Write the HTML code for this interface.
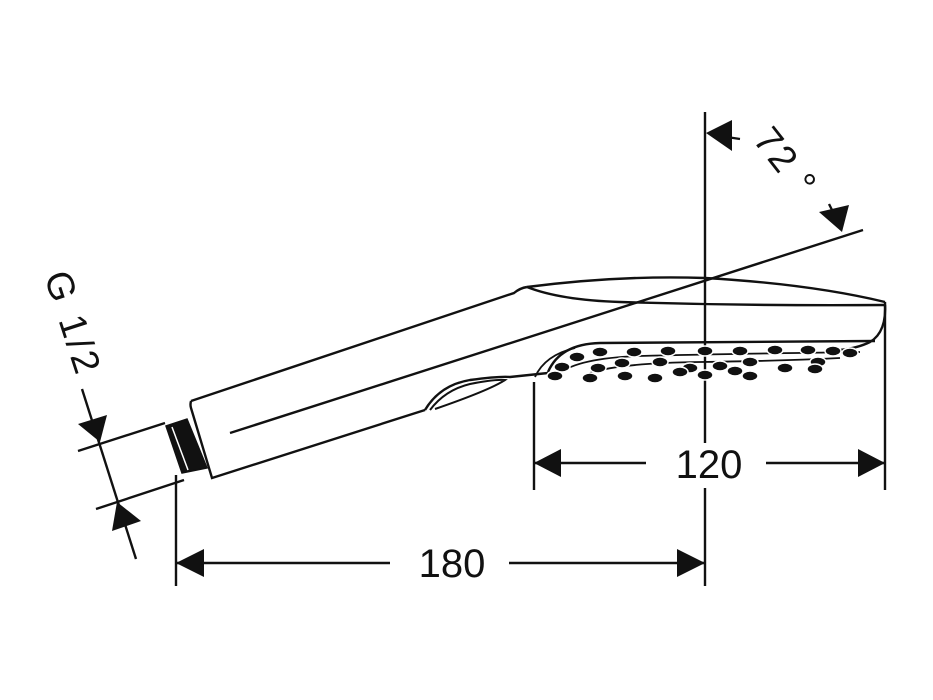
<!DOCTYPE html>
<html><head><meta charset="utf-8"><style>html,body{margin:0;padding:0;background:#fff}svg{display:block}</style></head>
<body>
<svg width="933" height="700" viewBox="0 0 933 700" xmlns="http://www.w3.org/2000/svg" font-family="Liberation Sans, sans-serif">
<g stroke="#111" stroke-width="2.4" fill="none">
<line x1="705" y1="112" x2="705" y2="443"/>
<line x1="705" y1="488" x2="705" y2="586"/>
<line x1="230" y1="433" x2="863" y2="230"/>
<path d="M191,401 L514,293 Q520,288 527,287"/>
<path d="M191,401 Q190,405 191,408 L212,478 L425,410"/>
<path d="M425,410 Q440,385 470,380 Q500,376 510,377 L548,373"/>
<path d="M430,410 Q445,390 470,384 Q495,379 505,380 Q490,390 435,409" stroke-width="2"/>
<polygon points="166,426 187,419 207,468 182,473" fill="#111" stroke-width="1.5"/>
<line x1="172" y1="427" x2="188" y2="470" stroke="#fff" stroke-width="1.5"/>
<path d="M527,287 Q620,275 705,278 Q810,284 885,302"/>
<path d="M527,287 Q560,300 620,302 Q750,306 885,305"/>
<path d="M885,302 Q887,332 870,342 Q858,348 840,350"/>
<path d="M875,341 L600,343 Q560,344 548,372"/>
<path d="M535,377 Q545,355 575,348" stroke-width="1.8"/>
<path d="M560,373 Q580,358 640,356 Q720,354 860,352" stroke-width="1.8"/>
<path d="M590,373 Q620,363 700,362 Q780,361 840,358" stroke-width="1.8"/>
<line x1="176" y1="475" x2="176" y2="586"/>
<line x1="534" y1="382" x2="534" y2="490"/>
<line x1="885" y1="305" x2="885" y2="490"/>
<line x1="176" y1="563" x2="390" y2="563"/>
<line x1="509" y1="563" x2="705" y2="563"/>
<line x1="534" y1="463" x2="646" y2="463"/>
<line x1="766" y1="463" x2="885" y2="463"/>
<line x1="78" y1="451" x2="165" y2="423"/>
<line x1="96" y1="509" x2="184" y2="480"/>
<line x1="82" y1="389" x2="136" y2="559"/>
<line x1="720" y1="136" x2="740" y2="139"/>
<line x1="829" y1="204" x2="834" y2="214"/>
</g>
<g fill="#111">
<polygon points="176,563 204,549 204,577"/>
<polygon points="705,563 677,549 677,577"/>
<polygon points="534,463 561,449 561,477"/>
<polygon points="885,463 858,449 858,477"/>
<polygon points="100,442 78,424 107,415"/>
<polygon points="117,502 112,531 141,521"/>
<polygon points="706,133 732,120 732,151"/>
<polygon points="842,232 819,212 849,205"/>
<g stroke="#fff" stroke-width="1.5">
<ellipse cx="577" cy="357" rx="8" ry="5"/><ellipse cx="600" cy="352" rx="8" ry="5"/>
<ellipse cx="634" cy="352" rx="8" ry="5"/><ellipse cx="668" cy="351" rx="8" ry="5"/>
<ellipse cx="705" cy="351" rx="8" ry="5"/><ellipse cx="740" cy="351" rx="8" ry="5"/>
<ellipse cx="775" cy="350" rx="8" ry="5"/><ellipse cx="808" cy="350" rx="8" ry="5"/>
<ellipse cx="833" cy="351" rx="8" ry="5"/><ellipse cx="850" cy="353" rx="8" ry="5"/>
<ellipse cx="562" cy="367" rx="8" ry="5"/><ellipse cx="598" cy="368" rx="8" ry="5"/>
<ellipse cx="622" cy="363" rx="8" ry="5"/><ellipse cx="660" cy="362" rx="8" ry="5"/>
<ellipse cx="690" cy="368" rx="8" ry="5"/><ellipse cx="720" cy="366" rx="8" ry="5"/>
<ellipse cx="750" cy="362" rx="8" ry="5"/><ellipse cx="785" cy="368" rx="8" ry="5"/>
<ellipse cx="818" cy="362" rx="8" ry="5"/><ellipse cx="815" cy="369" rx="8" ry="5"/>
<ellipse cx="555" cy="376" rx="8" ry="5"/><ellipse cx="590" cy="378" rx="8" ry="5"/>
<ellipse cx="625" cy="376" rx="8" ry="5"/><ellipse cx="655" cy="378" rx="8" ry="5"/>
<ellipse cx="705" cy="375" rx="8" ry="5"/><ellipse cx="750" cy="376" rx="8" ry="5"/>
<ellipse cx="680" cy="372" rx="8" ry="5"/><ellipse cx="735" cy="371" rx="8" ry="5"/>
</g>
<text x="452" y="577" font-size="40" text-anchor="middle">180</text>
<text x="709" y="478" font-size="40" text-anchor="middle">120</text>
<text transform="translate(752,140) rotate(52)" font-size="38" letter-spacing="2">72 °</text>
<text transform="translate(44,276) rotate(72)" font-size="38" letter-spacing="3">G 1/2</text>
</g>
</svg>
</body></html>
